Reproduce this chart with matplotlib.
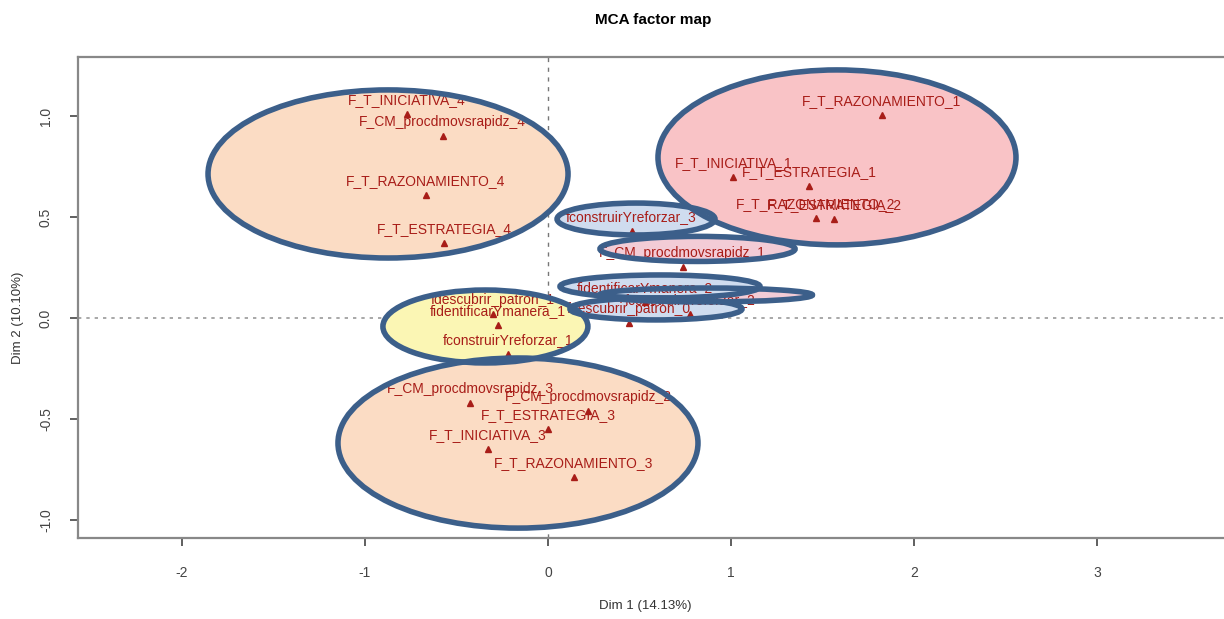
import numpy as np
from matplotlib import pyplot as plt
from matplotlib.patches import Ellipse

# category coordinates
labels = [
    "F_T_INICIATIVA_4", "F_CM_procdmovsrapidz_4", "F_T_RAZONAMIENTO_4", "F_T_ESTRATEGIA_4",
    "F_T_RAZONAMIENTO_1", "F_T_INICIATIVA_1", "F_T_ESTRATEGIA_1",
    "F_T_RAZONAMIENTO_2", "F_T_ESTRATEGIA_2",
    "fconstruirYreforzar_3", "F_CM_procdmovsrapidz_1",
    "fidentificarYmanera_2", "fconstruirYreforzar_2", "fdescubrir_patron_0",
    "fdescubrir_patron_1", "fidentificarYmanera_1", "fconstruirYreforzar_1",
    "F_CM_procdmovsrapidz_3", "F_CM_procdmovsrapidz_2", "F_T_ESTRATEGIA_3",
    "F_T_INICIATIVA_3", "F_T_RAZONAMIENTO_3",
]
dim1 = [-0.77, -0.575, -0.667, -0.568,
        1.823, 1.013, 1.428,
        1.463, 1.563,
        0.457, 0.736,
        0.53, 0.776, 0.444,
        -0.30, -0.275, -0.22,
        -0.426, 0.22, 0.0,
        -0.33, 0.14]
dim2 = [1.01, 0.90, 0.61, 0.373,
        1.005, 0.70, 0.653,
        0.494, 0.489,
        0.432, 0.251,
        0.08, 0.02, -0.026,
        0.02, -0.035, -0.18,
        -0.42, -0.46, -0.55,
        -0.65, -0.785]

# highlighted groups: centre x, centre y, width, height, fill
ell_cx = [-0.874, 1.579, -0.164, -0.342, 0.481, 0.817, 0.863, 0.612, 0.59]
ell_cy = [0.713, 0.795, -0.619, -0.042, 0.49, 0.342, 0.114, 0.156, 0.045]
ell_w = [1.967, 1.956, 1.967, 1.12, 0.863, 1.066, 1.164, 1.093, 0.94]
ell_h = [0.832, 0.866, 0.842, 0.361, 0.158, 0.124, 0.069, 0.114, 0.109]
ell_fill = ["#fbdcc4", "#f9c3c6", "#fbdcc4", "#fbf6b4", "#cfdcef",
            "#f3ccd6", "#f3ccd6", "#cfdcef", "#cfdcef"]

TXT = "#a81d18"
EDGE = "#3c5f8a"


def main():
    plt.rcParams["font.family"] = ["Liberation Sans", "DejaVu Sans"]
    plt.rcParams["axes.unicode_minus"] = False
    fig = plt.figure(figsize=(12.24, 6.19), dpi=100)
    ax = fig.add_axes([78 / 1224, 81 / 619, (1240 - 78) / 1224, 481 / 619])
    ax.set_xlim(-2.568, 3.781)
    ax.set_ylim(-1.089, 1.292)

    for cx, cy, w, h, fc in zip(ell_cx, ell_cy, ell_w, ell_h, ell_fill):
        ax.add_patch(Ellipse((cx, cy), w, h, facecolor=fc, edgecolor="none", zorder=1))
        ax.add_patch(Ellipse((cx, cy), w, h, facecolor="none", edgecolor=EDGE,
                             linewidth=4, zorder=4))

    ax.axhline(0, color="#999999", linestyle=(0, (2, 3)), linewidth=1.2, zorder=0)
    ax.axvline(0, color="#777777", linestyle=(0, (3, 4)), linewidth=1.0, zorder=0)

    ax.plot(dim1, dim2, linestyle="none", marker="^", markersize=5,
            color=TXT, zorder=3)
    for name, x, y in zip(labels, dim1, dim2):
        ax.annotate(name, (x, y), xytext=(0, 10), textcoords="offset points",
                    ha="center", va="center", fontsize=10, color=TXT, zorder=3)

    ax.set_xticks([-2, -1, 0, 1, 2, 3])
    ax.set_yticks([-1.0, -0.5, 0.0, 0.5, 1.0])
    ax.set_yticklabels(["-1.0", "-0.5", "0.0", "0.5", "1.0"], rotation=90, va="center")
    ax.tick_params(axis="both", colors="#444444", labelsize=10, length=6, width=1.2)
    ax.tick_params(axis="x", pad=14)
    ax.tick_params(axis="y", pad=12)
    for s in ax.spines.values():
        s.set_color("#888888")
        s.set_linewidth(1.6)

    fig.text(653 / 1224, 1 - 20 / 619, "MCA factor map", ha="center", va="center",
             fontsize=11, fontweight="bold")
    fig.text(645 / 1224, 1 - 606 / 619, "Dim 1 (14.13%)", ha="center", va="center",
             fontsize=9.5, color="#333333")
    fig.text(18 / 1224, 1 - 318 / 619, "Dim 2 (10.10%)", ha="center", va="center",
             rotation=90, fontsize=9.5, color="#333333")

    fig.savefig("out.png", dpi=100)


if __name__ == "__main__":
    main()
